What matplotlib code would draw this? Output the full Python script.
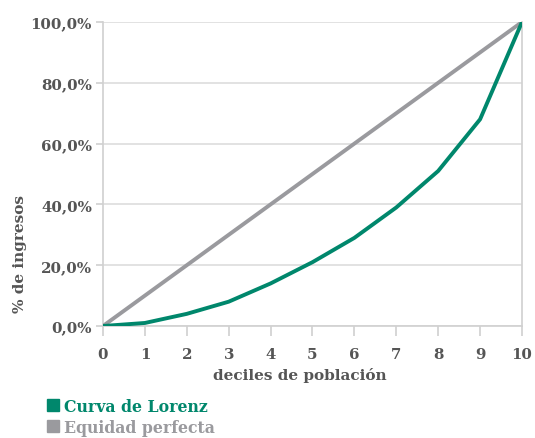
import numpy as np
import matplotlib.pyplot as plt
from matplotlib.lines import Line2D
from matplotlib.ticker import FuncFormatter

deciles = [0, 1, 2, 3, 4, 5, 6, 7, 8, 9, 10]
lorenz = [0, 1, 4, 8, 14, 21, 29, 39, 51, 68, 100]
equidad = [0, 10, 20, 30, 40, 50, 60, 70, 80, 90, 100]
y_ticks = [0, 20, 40, 60, 80, 100]

teal = '#00876c'
grey = '#9a9a9e'
text_col = '#555555'

plt.rcParams['font.family'] = ['DejaVu Serif']
plt.rcParams['font.weight'] = 'bold'

fig = plt.figure(figsize=(5.35, 4.39), dpi=100)
ax = fig.add_axes([0.1925, 0.2551, 0.7832, 0.6925])

ax.grid(color='#dddddd', linestyle='-', linewidth=1.2, axis='y', zorder=1)
ax.plot(deciles, equidad, color=grey, linewidth=2.8, zorder=3, solid_capstyle='butt')
ax.plot(deciles, lorenz, color=teal, linewidth=2.8, zorder=4, solid_capstyle='butt')

ax.set_xlim(0, 10)
ax.set_ylim(0, 100)
ax.set_xticks(deciles)
ax.set_yticks(y_ticks)
ax.yaxis.set_major_formatter(FuncFormatter(lambda v, p: f'{v:.1f}%'.replace('.', ',')))

ax.spines['top'].set_visible(False)
for s in ['left', 'right', 'bottom']:
    ax.spines[s].set_color('#d0d0d0')
    ax.spines[s].set_linewidth(1.2)

ax.tick_params(axis='x', colors='#d0d0d0', length=7, width=1.2, labelcolor=text_col, labelsize=10.8, pad=8)
ax.tick_params(axis='y', colors='#d0d0d0', length=5, width=1.2, labelcolor=text_col, labelsize=10.8, pad=3)

ax.set_xlabel('deciles de población', color=text_col, fontsize=11, fontweight='bold')
ax.set_ylabel('% de ingresos', color=text_col, fontsize=11, fontweight='bold')
ax.xaxis.set_label_coords(0.47, -0.135)
ax.yaxis.set_label_coords(-0.182, 0.24)

handles = [Line2D([], [], marker='s', linestyle='', color=teal, markersize=8.5),
           Line2D([], [], marker='s', linestyle='', color=grey, markersize=8.5)]
fig.legend(handles, ['Curva de Lorenz', 'Equidad perfecta'], loc='upper left',
           bbox_to_anchor=(0.088, 0.092), frameon=False, handlelength=0.7,
           handletextpad=0.35, labelspacing=0.25, borderpad=0, borderaxespad=0,
           labelcolor=[teal, grey], prop={'size': 11.3, 'weight': 'bold'})

fig.savefig('out.png', dpi=100)
